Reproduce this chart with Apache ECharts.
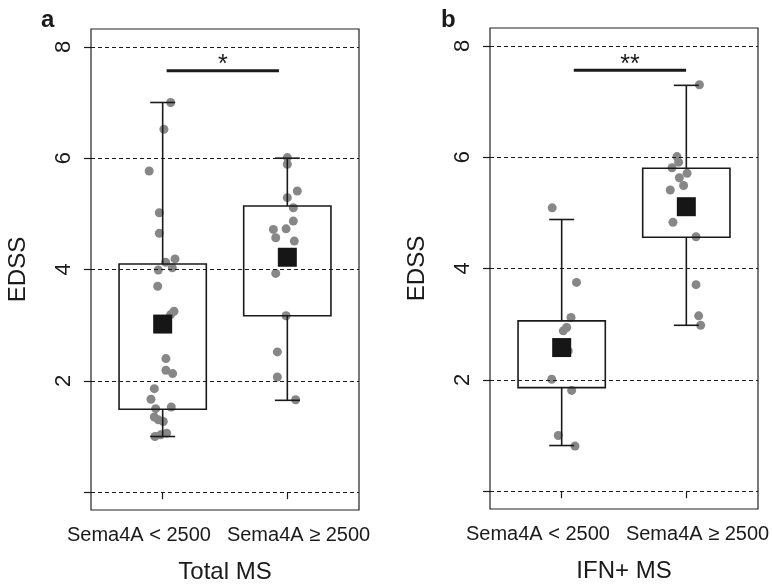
<!DOCTYPE html>
<html>
<head>
<meta charset="utf-8">
<script src="https://cdn.jsdelivr.net/npm/echarts@6/dist/echarts.min.js"></script>
<style>
  html, body { margin: 0; padding: 0; background: #fff; }
  #chart { width: 772px; height: 584px; }
</style>
</head>
<body>
<div id="chart"></div>
<script>
// 数据
const groupNames = ["Sema4A < 2500", "Sema4A \u2265 2500"];
const panelTitles = ["Total MS", "IFN+ MS"];
const panelLetters = ["a", "b"];
const yTicks = [0, 2, 4, 6, 8];
const yLabels = [2, 4, 6, 8];

// panel a: jittered points [x, EDSS]
const pointsA = [
  [1.064, 7.0], [1.010, 6.52], [0.892, 5.77], [0.973, 5.02], [0.973, 4.65],
  [1.099, 4.19], [1.024, 4.13], [1.077, 4.03], [0.965, 3.99], [0.960, 3.70],
  [1.091, 3.25], [1.064, 3.19], [1.026, 2.40], [1.026, 2.19], [1.080, 2.13],
  [0.933, 1.86], [0.906, 1.67], [1.069, 1.53], [0.944, 1.50], [0.933, 1.35],
  [0.965, 1.30], [1.005, 1.27], [1.032, 1.06], [0.984, 1.03], [0.938, 1.00],
  [2.000, 6.01], [2.000, 5.89], [2.080, 5.41], [2.000, 5.29], [2.048, 5.11],
  [2.048, 4.87], [1.990, 4.73], [1.888, 4.72], [1.907, 4.57], [2.056, 4.51],
  [1.907, 3.93], [1.990, 3.17], [1.920, 2.52], [1.920, 2.07], [2.067, 1.66]
];
// [x, q1, q3, whiskerLow, whiskerHigh]
const boxesA = [[1, 1.49, 4.10, 1.00, 7.00], [2, 3.17, 5.14, 1.65, 6.00]];
const meansA = [[1, 3.02], [2, 4.22]];
const sigA = [[1.032, 1.933, 7.57, "*"]];

// panel b
const pointsB = [
  [0.924, 5.09], [1.119, 3.75], [1.075, 3.12], [1.040, 2.94], [1.013, 2.88],
  [1.053, 2.52], [0.920, 2.01], [1.080, 1.81], [0.973, 1.00], [1.107, 0.81],
  [2.105, 7.30], [1.925, 6.01], [1.938, 5.91], [1.885, 5.81], [2.006, 5.71],
  [1.944, 5.63], [1.978, 5.49], [1.871, 5.41], [1.893, 4.83], [2.078, 4.57],
  [2.078, 3.71], [2.099, 3.15], [2.115, 2.98]
];
const boxesB = [[1, 1.86, 3.06, 0.82, 4.88], [2, 4.56, 5.80, 2.98, 7.29]];
const meansB = [[1, 2.58], [2, 5.11]];
const sigB = [[1.097, 1.998, 7.56, "**"]];

const FONT = "'Liberation Sans', Arial, sans-serif";
const INK = "#1a1a1a";

const chart = echarts.init(document.getElementById("chart"));

function renderBox(params, api) {
  const x = api.value(0);
  const half = api.size([0.35, 0])[0];
  const cap = api.size([0.1, 0])[0];
  const q1 = api.coord([x, api.value(1)]);
  const q3 = api.coord([x, api.value(2)]);
  const lo = api.coord([x, api.value(3)]);
  const hi = api.coord([x, api.value(4)]);
  const st = { stroke: INK, lineWidth: 1.6, fill: null };
  return {
    type: "group",
    children: [
      { type: "rect", shape: { x: q3[0] - half, y: q3[1], width: half * 2, height: q1[1] - q3[1] }, style: st },
      { type: "line", shape: { x1: hi[0], y1: hi[1], x2: q3[0], y2: q3[1] }, style: st },
      { type: "line", shape: { x1: q1[0], y1: q1[1], x2: lo[0], y2: lo[1] }, style: st },
      { type: "line", shape: { x1: hi[0] - cap, y1: hi[1], x2: hi[0] + cap, y2: hi[1] }, style: st },
      { type: "line", shape: { x1: lo[0] - cap, y1: lo[1], x2: lo[0] + cap, y2: lo[1] }, style: st }
    ]
  };
}

const sigLabels = {};

function renderSig(params, api) {
  const p1 = api.coord([api.value(0), api.value(2)]);
  const p2 = api.coord([api.value(1), api.value(2)]);
  const txt = sigLabels[params.seriesIndex] || "";
  return {
    type: "group",
    children: [
      { type: "line", shape: { x1: p1[0], y1: p1[1], x2: p2[0], y2: p2[1] }, style: { stroke: INK, lineWidth: 3 } },
      { type: "text", style: { text: txt, x: (p1[0] + p2[0]) / 2, y: p1[1] + 7, align: "center", verticalAlign: "bottom", font: "25px " + FONT, fill: INK } }
    ]
  };
}

const grids = [
  { left: 91, right: 413, top: 29, bottom: 74 },
  { left: 490, right: 14, top: 28, bottom: 75 }
];
const panelData = [
  { points: pointsA, boxes: boxesA, means: meansA, sig: sigA },
  { points: pointsB, boxes: boxesB, means: meansB, sig: sigB }
];

const option = {
  animation: false,
  backgroundColor: "#fff",
  textStyle: { fontFamily: FONT },
  title: panelLetters.map((t, i) => ({
    text: t,
    left: i === 0 ? 36 : 436,
    top: 3,
    textStyle: { fontSize: 24, fontWeight: "bold", color: INK, fontFamily: FONT }
  })),
  grid: grids.map((g) => Object.assign({
    show: true,
    borderColor: "#222",
    borderWidth: 1.2,
    backgroundColor: "transparent",
    containLabel: false,
    outerBoundsMode: "none"
  }, g)),
  xAxis: grids.map((g, i) => ({
    type: "value",
    gridIndex: i,
    min: 0.425,
    max: 2.575,
    name: panelTitles[i],
    nameLocation: "middle",
    nameGap: 50,
    nameTextStyle: { fontSize: 24, color: INK, fontFamily: FONT },
    axisLine: { show: false },
    splitLine: { show: false },
    axisTick: { show: true, inside: false, length: 7, customValues: [1, 2], lineStyle: { color: INK, width: 1.2 } },
    axisLabel: {
      customValues: [0.81, 2.09],
      margin: 15,
      fontSize: 20,
      color: INK,
      fontFamily: FONT,
      formatter: (v) => (v < 1.5 ? groupNames[0] : groupNames[1])
    }
  })),
  yAxis: grids.map((g, i) => ({
    type: "value",
    gridIndex: i,
    min: -0.32,
    max: 8.32,
    name: "EDSS",
    nameLocation: "middle",
    nameRotate: 90,
    nameGap: 61,
    nameTextStyle: { fontSize: 24, color: INK, fontFamily: FONT },
    axisLine: { show: false },
    splitLine: { show: false },
    axisTick: { show: true, inside: false, length: 7, customValues: yTicks, lineStyle: { color: INK, width: 1.2 } },
    axisLabel: { customValues: yLabels, rotate: 90, margin: 16, fontSize: 22, color: INK, fontFamily: FONT }
  })),
  series: []
};

panelData.forEach((pd, i) => {
  option.series.push({
    type: "scatter",
    xAxisIndex: i,
    yAxisIndex: i,
    data: pd.points,
    symbolSize: 9,
    itemStyle: { color: "#878787", opacity: 1 },
    z: 2,
    markLine: {
      silent: true,
      symbol: "none",
      label: { show: false },
      lineStyle: { color: INK, type: [4, 3], width: 1 },
      data: yTicks.map((v) => ({ yAxis: v }))
    }
  });
  option.series.push({
    type: "custom",
    xAxisIndex: i,
    yAxisIndex: i,
    data: pd.boxes,
    renderItem: renderBox,
    z: 3
  });
  option.series.push({
    type: "scatter",
    xAxisIndex: i,
    yAxisIndex: i,
    data: pd.means,
    symbol: "rect",
    symbolSize: 19,
    itemStyle: { color: "#161616", opacity: 1 },
    z: 4
  });
  sigLabels[option.series.length] = pd.sig[0][3];
  option.series.push({
    type: "custom",
    xAxisIndex: i,
    yAxisIndex: i,
    data: pd.sig.map((s) => [s[0], s[1], s[2]]),
    renderItem: renderSig,
    z: 4
  });
});

chart.setOption(option);
</script>
</body>
</html>
